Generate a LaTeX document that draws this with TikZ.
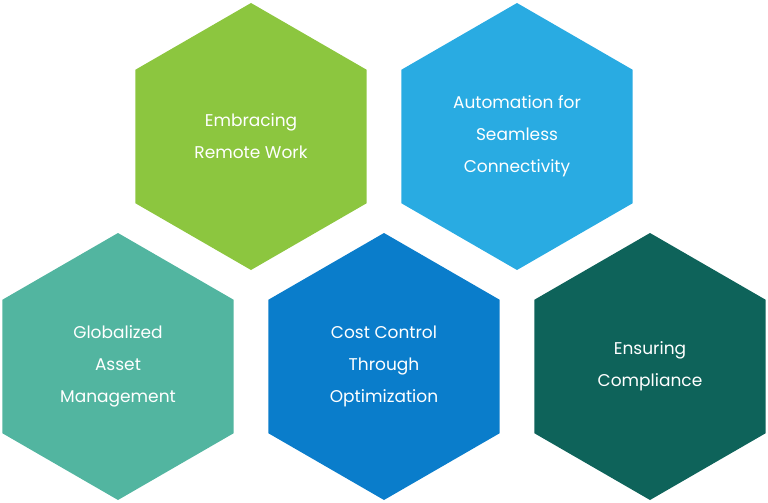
\documentclass[tikz,border=0pt]{standalone}
\usepackage{fontspec}
\setmainfont{Poppins}
\usetikzlibrary{shapes.geometric}
\definecolor{hexgreen}{HTML}{8CC63F}
\definecolor{hexsky}{HTML}{29ABE2}
\definecolor{hexteal}{HTML}{52B5A0}
\definecolor{hexblue}{HTML}{0A7DCB}
\definecolor{hexdark}{HTML}{0E635A}
\tikzset{
	hex/.style={regular polygon, regular polygon sides=6, shape border rotate=30,
		minimum size=267pt, inner sep=0pt, fill=#1, text=white, align=center,
		font=\fontsize{17}{32}\selectfont}
}
\begin{document}
\begin{tikzpicture}[x=1pt, y=-1pt]
	\useasboundingbox (0, 0) rectangle (768, 503);

	\node[hex=hexgreen]	(remote)	at (251, 136.5) {Embracing\\Remote Work};
	\node[hex=hexsky]	(auto)		at (517, 136.5) {Automation for\\Seamless\\Connectivity};

	\node[hex=hexteal]	(asset)		at (118, 366.5) {Globalized\\Asset\\Management};
	\node[hex=hexblue]	(cost)		at (384, 366.5) {Cost Control\\Through\\Optimization};
	\node[hex=hexdark]	(comply)	at (650, 366.5) {Ensuring\\Compliance};
\end{tikzpicture}
\end{document}
